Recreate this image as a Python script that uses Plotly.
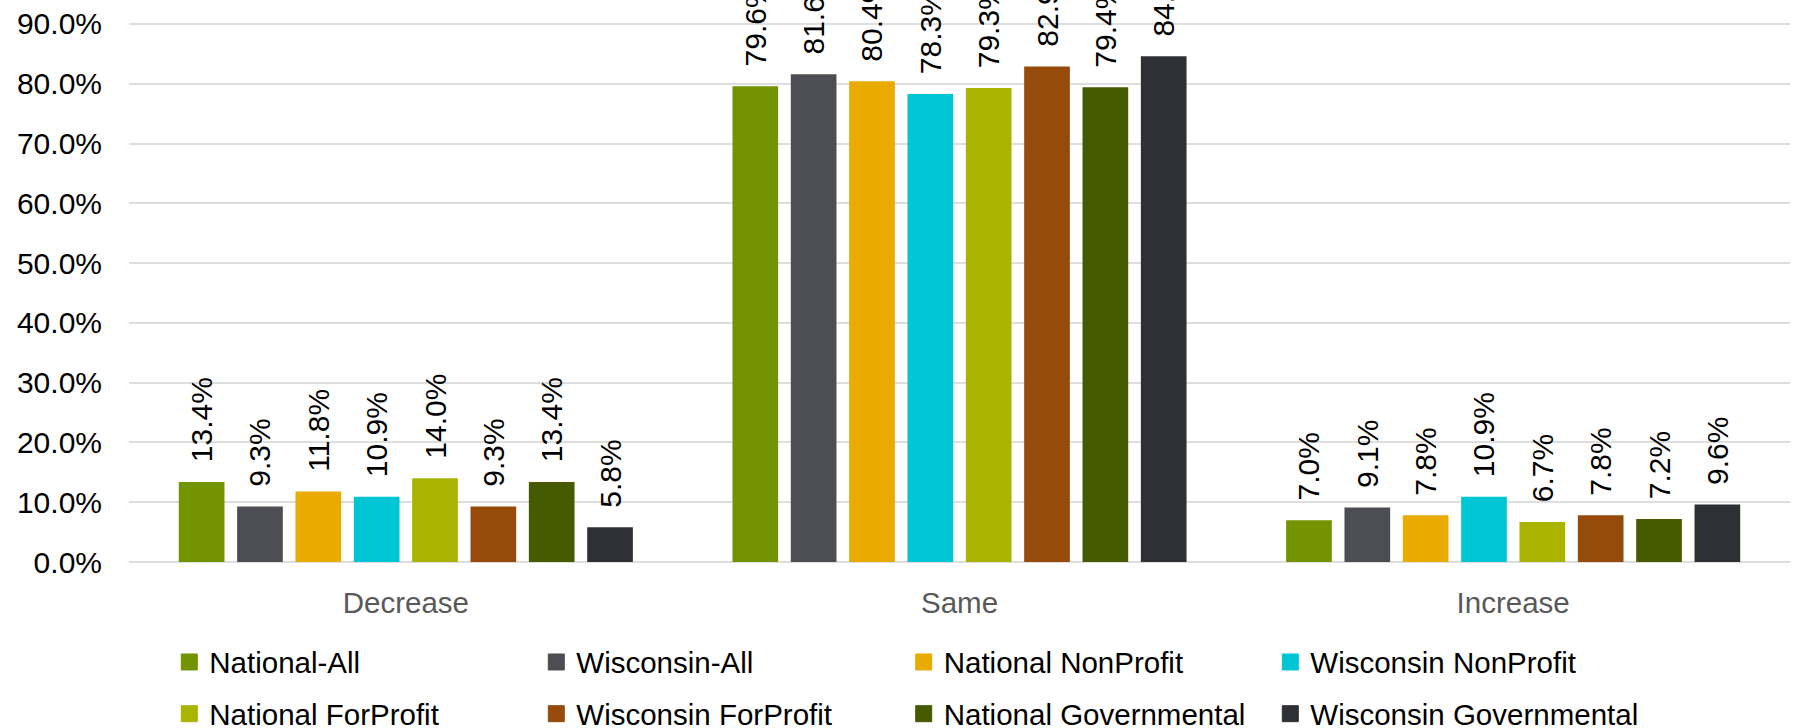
import plotly.graph_objects as go

categories = ["Decrease", "Same", "Increase"]
series_names = [
    "National-All", "Wisconsin-All", "National NonProfit", "Wisconsin NonProfit",
    "National ForProfit", "Wisconsin ForProfit", "National Governmental", "Wisconsin Governmental",
]
national_all = [13.4, 79.6, 7.0]
wisconsin_all = [9.3, 81.6, 9.1]
national_nonprofit = [11.8, 80.4, 7.8]
wisconsin_nonprofit = [10.9, 78.3, 10.9]
national_forprofit = [14.0, 79.3, 6.7]
wisconsin_forprofit = [9.3, 82.9, 7.8]
national_governmental = [13.4, 79.4, 7.2]
wisconsin_governmental = [5.8, 84.6, 9.6]
series_values = [
    national_all, wisconsin_all, national_nonprofit, wisconsin_nonprofit,
    national_forprofit, wisconsin_forprofit, national_governmental, wisconsin_governmental,
]
colors = ["#739300", "#4D4E53", "#E9AB00", "#00C5D5", "#A8B400", "#964B0A", "#465A00", "#2F3035"]
y_ticks = [0, 10, 20, 30, 40, 50, 60, 70, 80, 90]

W, H = 1795, 728
FONT = "Liberation Sans, Arial, sans-serif"

# legend positions (marker centre px) : columns and rows
leg_cols = [192.3, 559.3, 926.7, 1293.3]
leg_rows = [662.3, 714.0]
LEG_OFF = 23

fig = go.Figure()
for i, (name, vals, col) in enumerate(zip(series_names, series_values, colors)):
    fig.add_trace(go.Bar(
        x=categories, y=vals, name=name, marker=dict(color=col, line=dict(width=0)),
        texttemplate="\u00a0\u00a0%{y:.1f}%", textposition="outside", textangle=-90,
        textfont=dict(family=FONT, size=30, color="#000000"),
        cliponaxis=False, constraintext="none", showlegend=False,
    ))

for i, (name, col) in enumerate(zip(series_names, colors)):
    lg = "legend" if i == 0 else f"legend{i + 1}"
    fig.add_trace(go.Scatter(
        x=[None], y=[None], mode="markers", name=name,
        marker=dict(symbol="square", size=16, color=col, line=dict(width=1, color=col)),
        showlegend=True, legend=lg,
    ))

layout_legends = {}
for i in range(8):
    key = "legend" if i == 0 else f"legend{i + 1}"
    r, c = divmod(i, 4)
    layout_legends[key] = dict(
        xref="container", yref="container",
        x=(leg_cols[c] - LEG_OFF) / W, y=1 - leg_rows[r] / H,
        xanchor="left", yanchor="middle", orientation="h",
        font=dict(family=FONT, size=29.5, color="#000000"),
        bgcolor="rgba(0,0,0,0)", borderwidth=0,
    )

fig.update_layout(
    width=W, height=H,
    margin=dict(l=128.5, r=4.5, t=0, b=165.5, pad=0),
    paper_bgcolor="white", plot_bgcolor="white",
    barmode="group", bargap=0.157, bargroupgap=0.217,
    font=dict(family=FONT),
    xaxis=dict(
        showgrid=False, showline=False, zeroline=False, ticks="",
        tickfont=dict(family=FONT, size=29.5, color="#595959"),
        ticklabelstandoff=20,
    ),
    yaxis=dict(
        range=[0, 94.01], tickmode="array", tickvals=y_ticks,
        ticktext=[f"{v:.1f}%" for v in y_ticks],
        showgrid=True, gridcolor="#DEDEDE", gridwidth=2,
        zeroline=True, zerolinecolor="#DEDEDE", zerolinewidth=2,
        showline=False, ticks="",
        tickfont=dict(family=FONT, size=30, color="#000000"),
        ticklabelstandoff=26,
    ),
    **layout_legends,
)

fig.write_html("out.html", config={"displayModeBar": False},
               post_script="document.body.style.margin='0';document.body.style.overflow='hidden';")
